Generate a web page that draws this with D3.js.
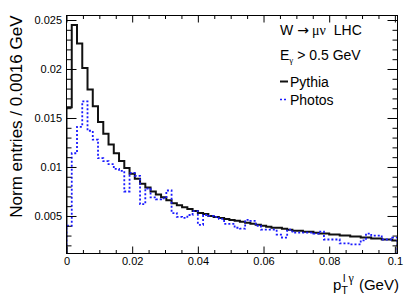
<!DOCTYPE html>
<html><head><meta charset="utf-8">
<script src="https://cdn.jsdelivr.net/npm/d3@7/dist/d3.min.js"></script>
<style>
body{margin:0;background:#fff}
svg{display:block;font-family:"Liberation Sans",Arial,sans-serif}
</style>
</head><body>
<svg id="chart" width="418" height="300"></svg>
<script>
// histogram: 63 bins of 0.0016 GeV
const binWidth = 0.0016;
const pythia = [0.0161, 0.0245, 0.0226, 0.0201, 0.0179, 0.0162, 0.0146, 0.0134, 0.0123, 0.0114,
  0.0106, 0.0099, 0.0093, 0.0088, 0.0083, 0.0079, 0.0075, 0.0072, 0.0069, 0.0066,
  0.0063, 0.0061, 0.0059, 0.0057, 0.0055, 0.0053, 0.0052, 0.0050, 0.0049, 0.0048,
  0.0047, 0.0046, 0.0045, 0.0044, 0.0043, 0.0042, 0.0041, 0.0040, 0.0039, 0.0038,
  0.0038, 0.0037, 0.0036, 0.0035, 0.0035, 0.0034, 0.0034, 0.0033, 0.0032, 0.0032,
  0.0031, 0.0031, 0.0030, 0.0030, 0.0029, 0.0029, 0.0028, 0.0028, 0.0027, 0.0027,
  0.0026, 0.0026, 0.0025];
const photos = [0.0040, 0.0114, 0.0141, 0.0167, 0.0137, 0.0128, 0.0109, 0.0106, 0.0103, 0.0098,
  0.0096, 0.0075, 0.0094, 0.0091, 0.0062, 0.0078, 0.0069, 0.0067, 0.0068, 0.0076,
  0.0053, 0.0049, 0.0048, 0.0051, 0.0055, 0.0041, 0.0051, 0.0050, 0.0049, 0.0047,
  0.0042, 0.0042, 0.0038, 0.0037, 0.0046, 0.0045, 0.0040, 0.0036, 0.0036, 0.0036,
  0.0031, 0.0028, 0.0036, 0.0033, 0.0033, 0.0033, 0.0033, 0.0032, 0.0034, 0.0026,
  0.0026, 0.0026, 0.0022, 0.0022, 0.0021, 0.0021, 0.0025, 0.0032, 0.0030, 0.0030,
  0.0026, 0.0026, 0.0028];

const xTicks = [0, 0.02, 0.04, 0.06, 0.08, 0.1];
const xTickLabels = ["0", "0.02", "0.04", "0.06", "0.08", "0.1"];
const yTicks = [0.005, 0.01, 0.015, 0.02, 0.025];
const yTickLabels = ["0.005", "0.01", "0.015", "0.02", "0.025"];

const svg = d3.select('#chart');
const frame = { l: 66.5, r: 397.5, t: 15.5, b: 253.5 };

const x = d3.scaleLinear().domain([0, binWidth * pythia.length]).range([frame.l, frame.r]);
const y = d3.scaleLinear().domain([0.00117, 0.02546]).range([frame.b, frame.t]);

const xMinor = d3.range(0, 0.1001, 0.005).filter(v => Math.abs(v / 0.02 - Math.round(v / 0.02)) > 1e-6);
const yMinor = d3.range(0.002, 0.0255, 0.001).filter(v => Math.abs(v / 0.005 - Math.round(v / 0.005)) > 1e-6);

svg.append('clipPath').attr('id', 'clip')
  .append('rect').attr('x', frame.l).attr('y', frame.t)
  .attr('width', frame.r - frame.l).attr('height', frame.b - frame.t);

// step outline of a histogram, ROOT style
function histPath(vals) {
  const pts = [[0, y.domain()[0]]];
  vals.forEach((v, i) => { pts.push([i * binWidth, v]); pts.push([(i + 1) * binWidth, v]); });
  pts.push([vals.length * binWidth, y.domain()[0]]);
  return d3.line().x(d => x(d[0])).y(d => y(d[1]))(pts);
}

const plot = svg.append('g').attr('clip-path', 'url(#clip)');
plot.append('path').attr('d', histPath(pythia))
  .attr('fill', 'none').attr('stroke', '#111').attr('stroke-width', 2);
plot.append('path').attr('d', histPath(photos))
  .attr('fill', 'none').attr('stroke', '#1a1aff').attr('stroke-width', 1.8)
  .attr('stroke-dasharray', '2,2');

// axes with inward ticks on all four sides
function styleAxis(g) {
  g.select('.domain').remove();
  g.selectAll('line').attr('stroke', '#000');
  g.selectAll('text').attr('fill', '#000').attr('font-size', 11)
    .attr('font-family', '"Liberation Sans",Arial,sans-serif');
  g.attr('font-family', null).attr('font-size', null);
}

svg.append('g').attr('transform', `translate(0,${frame.b})`)
  .call(d3.axisBottom(x).tickValues(xTicks).tickFormat((d, i) => xTickLabels[i])
    .tickSizeInner(-7).tickSizeOuter(0).tickPadding(4))
  .call(styleAxis);
svg.append('g').attr('transform', `translate(0,${frame.b})`)
  .call(d3.axisBottom(x).tickValues(xMinor).tickFormat('').tickSize(-3.5))
  .call(styleAxis);
svg.append('g').attr('transform', `translate(0,${frame.t})`)
  .call(d3.axisTop(x).tickValues(xTicks).tickFormat('').tickSize(-7))
  .call(styleAxis);
svg.append('g').attr('transform', `translate(0,${frame.t})`)
  .call(d3.axisTop(x).tickValues(xMinor).tickFormat('').tickSize(-3.5))
  .call(styleAxis);

svg.append('g').attr('transform', `translate(${frame.l},0)`)
  .call(d3.axisLeft(y).tickValues(yTicks).tickFormat((d, i) => yTickLabels[i])
    .tickSizeInner(-10).tickSizeOuter(0).tickPadding(4.5))
  .call(styleAxis);
svg.append('g').attr('transform', `translate(${frame.l},0)`)
  .call(d3.axisLeft(y).tickValues(yMinor).tickFormat('').tickSize(-5))
  .call(styleAxis);
svg.append('g').attr('transform', `translate(${frame.r},0)`)
  .call(d3.axisRight(y).tickValues(yTicks).tickFormat('').tickSize(-10))
  .call(styleAxis);
svg.append('g').attr('transform', `translate(${frame.r},0)`)
  .call(d3.axisRight(y).tickValues(yMinor).tickFormat('').tickSize(-5))
  .call(styleAxis);

svg.append('rect').attr('x', frame.l).attr('y', frame.t)
  .attr('width', frame.r - frame.l).attr('height', frame.b - frame.t)
  .attr('fill', 'none').attr('stroke', '#000').attr('stroke-width', 1);

// axis titles
svg.append('text').attr('transform', `translate(22,${frame.t}) rotate(-90)`)
  .attr('text-anchor', 'end').attr('font-size', 17).text('Norm entries / 0.0016 GeV');

const xt = svg.append('text').attr('x', 333).attr('y', 290).attr('font-size', 15);
xt.append('tspan').text('p');
xt.append('tspan').attr('font-size', 11).attr('dy', 4).text('T');
xt.append('tspan').attr('font-size', 11).attr('dx', -5).attr('dy', -12).text('l ');
xt.append('tspan').attr('font-size', 12).attr('font-family', '"Liberation Serif",serif').text('γ');
xt.append('tspan').attr('dy', 8).attr('dx', 5).text('(GeV)');

// labels and legend
const lab = svg.append('g').attr('font-size', 14);
const t1 = lab.append('text').attr('x', 280).attr('y', 35);
t1.append('tspan').text('W');
t1.append('tspan').attr('dx', 4).attr('font-family', '"DejaVu Sans",sans-serif').text('→');
t1.append('tspan').attr('dx', 3).attr('font-family', '"Liberation Serif",serif').text('μν');
t1.append('tspan').attr('dx', 8).text('LHC');
const t2 = lab.append('text').attr('x', 280).attr('y', 60);
t2.append('tspan').text('E');
t2.append('tspan').attr('font-size', 9).attr('dy', 3).attr('font-family', '"Liberation Serif",serif').text('γ');
t2.append('tspan').attr('dy', -3).text(' > 0.5 GeV');

const legendItems = [
  { name: 'Pythia', color: '#111', dash: null, yText: 87, yLine: 81.5 },
  { name: 'Photos', color: '#1a1aff', dash: '2,2', yText: 105, yLine: 99.5 }
];
legendItems.forEach(d => {
  lab.append('line').attr('x1', 280).attr('x2', 288).attr('y1', d.yLine).attr('y2', d.yLine)
    .attr('stroke', d.color).attr('stroke-width', d.dash ? 1.6 : 2).attr('stroke-dasharray', d.dash);
  lab.append('text').attr('x', 290).attr('y', d.yText).text(d.name);
});
</script>
</body></html>
